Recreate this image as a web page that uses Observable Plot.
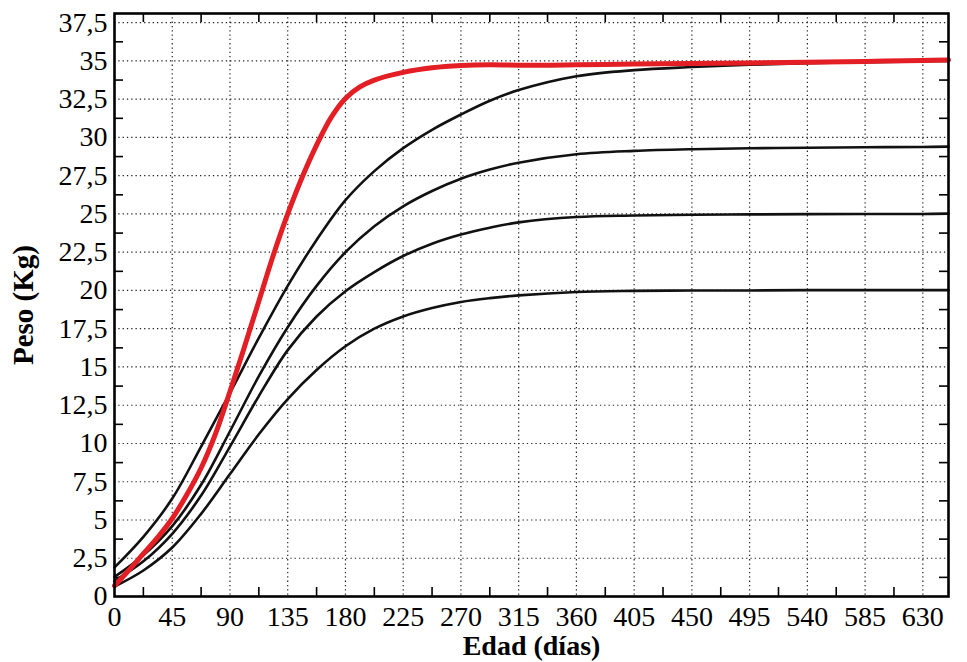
<!DOCTYPE html>
<html>
<head>
<meta charset="utf-8">
<script src="https://cdn.jsdelivr.net/npm/d3@7"></script>
<script src="https://cdn.jsdelivr.net/npm/@observablehq/plot@0.6"></script>
<style>
  html, body { margin: 0; padding: 0; background: #fff; }
  #chart { width: 967px; height: 662px; }
</style>
</head>
<body>
<div id="chart"></div>
<script>
// ---- Data ----
// Red curve
const diasRojo = [0, 11, 22.5, 34, 45, 56, 67.5, 79, 90, 101.25, 112.5, 123.75, 135, 146.25, 157.5, 168.75, 180, 191.25, 202.5, 225, 247.5, 270, 292.5, 315, 360, 405, 450, 495, 540, 585, 630, 650];
const pesoRojo = [0.7, 1.7, 2.8, 3.9, 5.1, 6.6, 8.4, 10.7, 13.4, 16.3, 19.3, 22.3, 25.0, 27.4, 29.5, 31.3, 32.55, 33.3, 33.75, 34.25, 34.55, 34.7, 34.75, 34.72, 34.75, 34.8, 34.83, 34.87, 34.92, 34.97, 35.03, 35.06];

// Black curves (shared days)
const dias = [0, 22.5, 45, 67.5, 90, 112.5, 135, 157.5, 180, 202.5, 225, 247.5, 270, 292.5, 315, 360, 405, 450, 495, 540, 585, 630, 650];
const curva35 = [1.9, 3.9, 6.4, 9.8, 13.3, 16.9, 20.3, 23.3, 25.9, 27.8, 29.3, 30.5, 31.5, 32.4, 33.1, 34.0, 34.4, 34.6, 34.75, 34.85, 34.92, 34.97, 35.0];
const curva29 = [1.28, 2.7, 4.6, 7.3, 10.8, 14.4, 17.6, 20.3, 22.5, 24.2, 25.5, 26.5, 27.3, 27.9, 28.35, 28.9, 29.12, 29.23, 29.29, 29.33, 29.36, 29.38, 29.4];
const curva25 = [1.03, 2.3, 4.1, 6.6, 9.8, 13.1, 16.1, 18.3, 19.95, 21.2, 22.25, 23.05, 23.65, 24.1, 24.45, 24.8, 24.9, 24.95, 24.97, 24.99, 25.0, 25.0, 25.02];
const curva20 = [0.65, 1.7, 3.2, 5.4, 8.0, 10.6, 12.9, 14.8, 16.35, 17.5, 18.3, 18.85, 19.25, 19.5, 19.68, 19.9, 19.97, 20.0, 20.0, 20.02, 20.02, 20.02, 20.02];

// Ticks
const ticksX = [0, 45, 90, 135, 180, 225, 270, 315, 360, 405, 450, 495, 540, 585, 630];
const ticksY = [0, 2.5, 5, 7.5, 10, 12.5, 15, 17.5, 20, 22.5, 25, 27.5, 30, 32.5, 35, 37.5];
const menoresX = [22.5, 67.5, 112.5, 157.5, 202.5, 247.5, 292.5, 337.5, 382.5, 427.5, 472.5, 517.5, 562.5, 607.5];
const menoresY = [1.25, 3.75, 6.25, 8.75, 11.25, 13.75, 16.25, 18.75, 21.25, 23.75, 26.25, 28.75, 31.25, 33.75, 36.25];

const tituloX = "Edad (días)";
const tituloY = "Peso (Kg)";

// ---- Tables ----
const negras = [
  {serie: "35", valores: curva35},
  {serie: "29", valores: curva29},
  {serie: "25", valores: curva25},
  {serie: "20", valores: curva20}
];
const filasNegras = negras.flatMap(s => dias.map((d, i) => ({dia: d, peso: s.valores[i], serie: s.serie})));
const filasRojo = diasRojo.map((d, i) => ({dia: d, peso: pesoRojo[i]}));

const fmt = d => String(d).replace(".", ",");

const W = 967, H = 662;
const mL = 114, mR = 19, mT = 13, mB = 66;
const frameW = W - mL - mR, frameH = H - mT - mB;
const tickLen = 9;
const serif = "'Liberation Serif', 'Times New Roman', Times, serif";

const chart = Plot.plot({
  width: W,
  height: H,
  marginLeft: mL, marginRight: mR, marginTop: mT, marginBottom: mB,
  style: {fontFamily: serif, fontSize: "28px", color: "black", background: "white"},
  x: {domain: [0, 650]},
  y: {domain: [0, 38.1]},
  marks: [
    Plot.gridX(ticksX.filter(d => d > 0), {stroke: "#222", strokeOpacity: 1, strokeWidth: 1.2, strokeDasharray: "1.3,3"}),
    Plot.gridY(ticksY.filter(d => d > 0), {stroke: "#222", strokeOpacity: 1, strokeWidth: 1.2, strokeDasharray: "1.3,3"}),
    Plot.tickX(menoresX, {x: d => d, insetTop: frameH - tickLen, stroke: "black", strokeWidth: 1.6}),
    Plot.tickX(menoresX, {x: d => d, insetBottom: frameH - tickLen, stroke: "black", strokeWidth: 1.6}),
    Plot.tickY(menoresY, {y: d => d, insetRight: frameW - tickLen, stroke: "black", strokeWidth: 1.6}),
    Plot.tickY(menoresY, {y: d => d, insetLeft: frameW - tickLen, stroke: "black", strokeWidth: 1.6}),
    Plot.line(filasNegras, {x: "dia", y: "peso", z: "serie", stroke: "#111", strokeWidth: 2.6, curve: "catmull-rom"}),
    Plot.line(filasRojo, {x: "dia", y: "peso", stroke: "#e31e24", strokeWidth: 5, curve: "catmull-rom"}),
    Plot.frame({stroke: "black", strokeWidth: 2.6}),
    Plot.axisX(ticksX, {tickSize: 0, tickPadding: 10, tickFormat: fmt, label: null, fontSize: 28}),
    Plot.axisY(ticksY, {tickSize: 0, tickPadding: 7, tickFormat: fmt, label: null, fontSize: 28}),
    Plot.text([tituloX], {frameAnchor: "bottom", dy: 50, lineAnchor: "middle", textAnchor: "middle", fontWeight: "bold", fontSize: 28, fontFamily: serif}),
    Plot.text([tituloY], {frameAnchor: "left", dx: -91, rotate: -90, lineAnchor: "middle", textAnchor: "middle", fontWeight: "bold", fontSize: 29, fontFamily: serif})
  ]
});
document.getElementById("chart").appendChild(chart);
</script>
</body>
</html>
